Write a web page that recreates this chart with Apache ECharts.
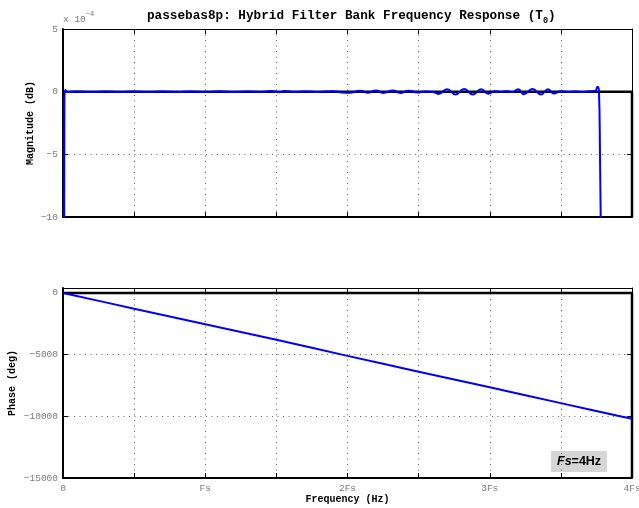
<!DOCTYPE html>
<html>
<head>
<meta charset="utf-8">
<script src="https://cdn.jsdelivr.net/npm/echarts@6/dist/echarts.min.js"></script>
<style>
  html, body { margin: 0; padding: 0; background: #fff; }
  #main { width: 639px; height: 508px; }
</style>
</head>
<body>
<div id="main"></div>
<script>
// frequency in units of Fs, magnitude in 1e-4 dB
var magFreq = [0, 0.01, 0.016, 0.03, 0.1, 0.2, 0.3, 0.4, 0.5, 0.6, 0.7, 0.8, 0.9, 1.0,
  1.1, 1.2, 1.3, 1.4, 1.46, 1.52, 1.56, 1.62, 1.7, 1.8, 1.9, 1.96, 2.02, 2.06, 2.09,
  2.14, 2.2, 2.25, 2.32, 2.37, 2.43, 2.49, 2.55, 2.6, 2.64, 2.7, 2.76, 2.82, 2.88,
  2.94, 2.99, 3.04, 3.08, 3.12, 3.16, 3.2, 3.24, 3.3, 3.36, 3.41, 3.45, 3.5, 3.55,
  3.6, 3.65, 3.7, 3.74, 3.758, 3.768, 3.775, 3.785];
var magVal = [-60, -1, 0.15, -0.02, 0.02, -0.02, 0.02, -0.02, 0.02, -0.02, 0.02, -0.02, 0.02, -0.03,
  0.03, -0.03, 0.02, -0.02, 0.06, -0.04, 0.05, -0.03, 0.02, -0.02, 0.03, -0.06, -0.08, 0.02, 0.08,
  -0.08, 0.1, -0.1, 0.1, -0.1, 0.08, -0.06, 0.02, -0.02, -0.18, 0.2, -0.22, 0.22, -0.22,
  0.2, -0.16, 0.03, -0.02, 0.04, -0.03, 0.2, -0.2, 0.22, -0.22, 0.2, -0.15, 0.03, -0.02,
  0.02, -0.02, 0.03, 0.05, 0.4, 0, -5, -15];

var phaseFreq = [0, 0.5, 1, 1.5, 2, 2.5, 3, 3.5, 3.9, 4];
var phaseVal = [0, -1275, -2530, -3800, -5100, -6380, -7650, -8930, -9960, -10200];

// black template lines (0 reference + right edge)
var refFreq = [0, 4, 4];
var refMag = [0, 0, -10];
var refPhase = [0, 0, -15000];

var xTickLabels = ['0', '', 'Fs', '', '2Fs', '', '3Fs', '', '4Fs'];

var mono = 'Liberation Mono';
var gray = '#7a7a7a';

function pairs(xs, ys) {
  return xs.map(function (x, i) { return [x, ys[i]]; });
}
function minus(v) {
  return String(v).replace('-', '\u2212');
}

var myChart = echarts.init(document.getElementById('main'));

var dotted = { show: true, lineStyle: { color: '#666', width: 1, type: [1, 4.5] } };
var tickIn = { show: true, inside: true, length: 5, lineStyle: { color: '#000', width: 1 } };
var nameFont = { fontFamily: mono, fontWeight: 'bold', fontSize: 10, color: '#000' };

function xAx(grid, pos, opts) {
  return Object.assign({
    type: 'value', gridIndex: grid, position: pos, min: 0, max: 4, interval: 0.5,
    axisLine: { show: true, onZero: false, lineStyle: { color: '#000', width: pos === 'bottom' ? 2 : 1 } },
    axisTick: tickIn,
    axisLabel: { show: false },
    splitLine: { show: false }
  }, opts || {});
}
function yAx(grid, pos, min, max, interval, opts) {
  return Object.assign({
    type: 'value', gridIndex: grid, position: pos, min: min, max: max, interval: interval,
    axisLine: { show: true, onZero: false, lineStyle: { color: '#000', width: pos === 'left' ? 2 : 1 } },
    axisTick: tickIn,
    axisLabel: { show: false },
    splitLine: { show: false }
  }, opts || {});
}

var option = {
  animation: false,
  backgroundColor: '#fff',
  title: {
    left: 142,
    top: 2,
    text: '{t|passebas8p: Hybrid Filter Bank Frequency Response (T}{s|0}{t|)}',
    textStyle: {
      rich: {
        t: { fontFamily: mono, fontWeight: 'bold', fontSize: 12.7, lineHeight: 18, color: '#000' },
        s: { fontFamily: mono, fontWeight: 'bold', fontSize: 8.5, lineHeight: 8, verticalAlign: 'bottom', color: '#000' }
      }
    }
  },
  grid: [
    { left: 63, top: 29, width: 569, height: 188, outerBoundsMode: 'none' },
    { left: 63, top: 288, width: 569, height: 190, outerBoundsMode: 'none' }
  ],
  xAxis: [
    xAx(0, 'bottom', { splitLine: dotted }),
    xAx(0, 'top'),
    xAx(1, 'bottom', {
      splitLine: dotted,
      name: 'Frequency (Hz)', nameLocation: 'middle', nameGap: 16, nameMoveOverlap: false,
      nameTextStyle: nameFont,
      axisLabel: {
        show: true, margin: 5, color: gray, fontFamily: mono, fontSize: 9.5,
        formatter: function (v) { return xTickLabels[Math.round(v * 2)] || ''; }
      }
    }),
    xAx(1, 'top')
  ],
  yAxis: [
    yAx(0, 'left', -10, 5, 5, {
      splitLine: dotted,
      name: 'Magnitude (dB)', nameLocation: 'middle', nameGap: 28, nameMoveOverlap: false,
      nameTextStyle: nameFont,
      axisLabel: { show: true, margin: 5, color: gray, fontFamily: mono, fontSize: 9.5, formatter: minus }
    }),
    yAx(0, 'right', -10, 5, 5),
    yAx(1, 'left', -15000, 400, 5000, {
      splitLine: dotted,
      name: 'Phase (deg)', nameLocation: 'middle', nameGap: 46, nameMoveOverlap: false,
      nameTextStyle: nameFont,
      axisLabel: {
        show: true, margin: 5, color: gray, fontFamily: mono, fontSize: 9.5,
        formatter: function (v) { return v % 5000 === 0 ? minus(v) : ''; }
      }
    }),
    yAx(1, 'right', -15000, 400, 5000)
  ],
  series: [
    {
      type: 'line', xAxisIndex: 0, yAxisIndex: 0, silent: true, symbol: 'none',
      lineStyle: { color: '#000', width: 2.5 },
      data: pairs(refFreq, refMag)
    },
    {
      name: 'magnitude', type: 'line', xAxisIndex: 0, yAxisIndex: 0, silent: true, symbol: 'none',
      smooth: 0.5,
      lineStyle: { color: '#0000ff', width: 2 },
      data: pairs(magFreq, magVal)
    },
    {
      type: 'line', xAxisIndex: 2, yAxisIndex: 2, silent: true, symbol: 'none',
      lineStyle: { color: '#000', width: 2.5 },
      data: pairs(refFreq, refPhase)
    },
    {
      name: 'phase', type: 'line', xAxisIndex: 2, yAxisIndex: 2, silent: true, symbol: 'none',
      smooth: 0.3,
      lineStyle: { color: '#0000ff', width: 2 },
      data: pairs(phaseFreq, phaseVal)
    }
  ],
  graphic: [
    {
      type: 'text', left: 63, top: 11,
      style: {
        text: '{a|x 10}{p|\u22124}',
        rich: {
          a: { fontFamily: mono, fontSize: 9.5, lineHeight: 16, fill: gray, color: gray },
          p: { fontFamily: mono, fontSize: 7, lineHeight: 8, verticalAlign: 'top', fill: gray, color: gray }
        }
      }
    },
    {
      type: 'rect', left: 551, top: 451,
      shape: { width: 56, height: 21 },
      style: { fill: '#d6d6d6' }
    },
    {
      type: 'text', left: 557, top: 455,
      style: {
        text: '{i|Fs}{b|=4Hz}',
        rich: {
          i: { fontFamily: 'Liberation Sans', fontStyle: 'italic', fontWeight: 'bold', fontSize: 12.5, color: '#000' },
          b: { fontFamily: 'Liberation Sans', fontWeight: 'bold', fontSize: 12.5, color: '#000' }
        }
      }
    }
  ]
};

myChart.setOption(option);
</script>
</body>
</html>
